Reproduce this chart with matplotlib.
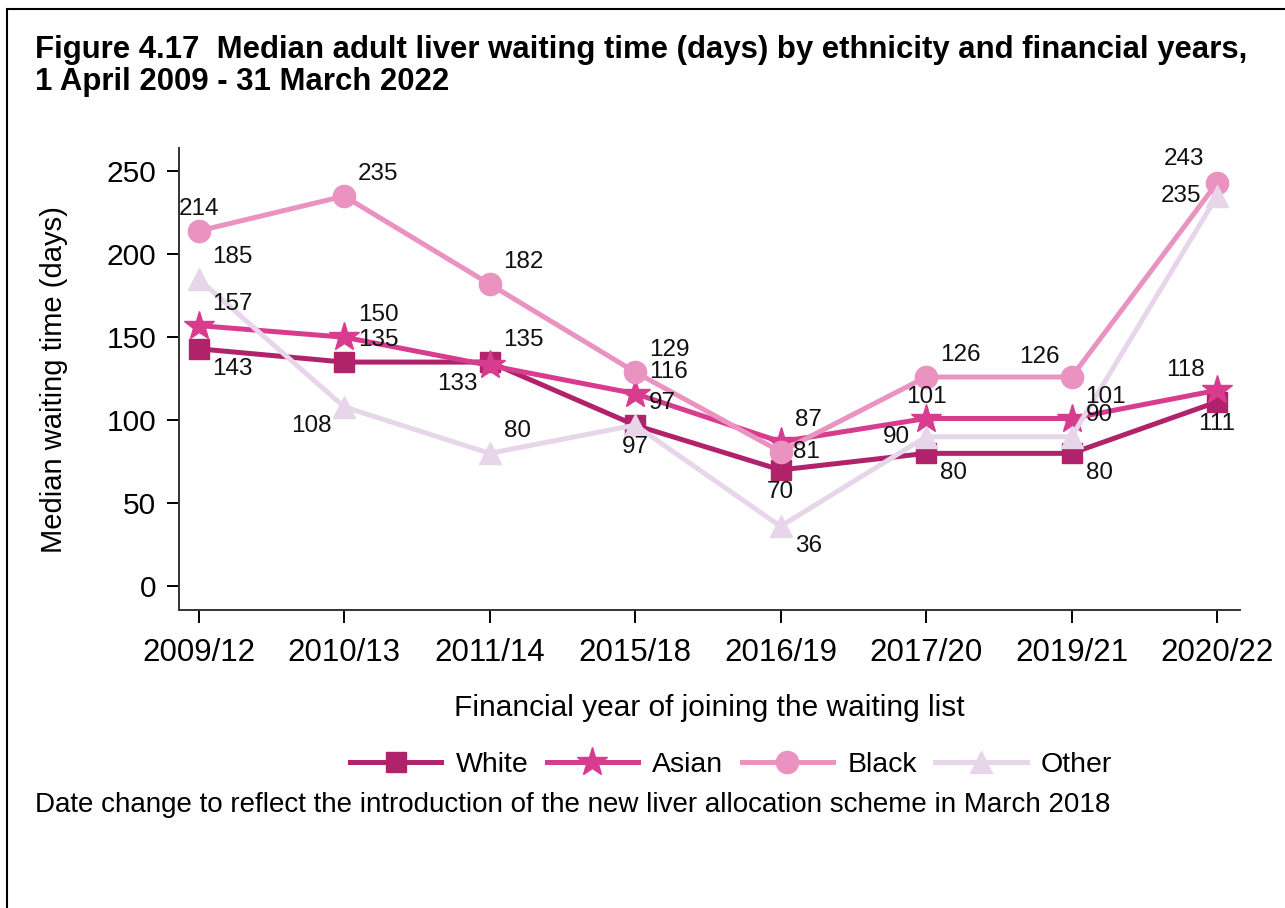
import matplotlib
matplotlib.use('Agg')
import matplotlib.pyplot as plt
from matplotlib.patches import Rectangle

plt.rcParams['font.family'] = ['Liberation Sans', 'DejaVu Sans']

years = ['2009/12', '2010/13', '2011/14', '2015/18', '2016/19', '2017/20', '2019/21', '2020/22']
white = [143, 135, 135, 97, 70, 80, 80, 111]
asian = [157, 150, 133, 116, 87, 101, 101, 118]
black = [214, 235, 182, 129, 81, 126, 126, 243]
other = [185, 108, 80, 97, 36, 90, 90, 235]

# label positions as clock positions (like stata mlabpos)
pos_white = [4, 2, 2, 6, 6, 4, 4, 6]
pos_asian = [2, 2, 8, 2, 2, 12, 2, 10]
pos_black = [12, 2, 2, 2, 3, 2, 10, 11]
pos_other = [2, 8, 2, 2, 4, 9, 2, 9]

clock = {
    2: (14, 22, 'left', 'center'),
    3: (12, 0, 'left', 'center'),
    4: (14, -20, 'left', 'center'),
    6: (0, -22, 'center', 'center'),
    8: (-12, -19, 'right', 'center'),
    9: (-16, 0, 'right', 'center'),
    10: (-12, 20, 'right', 'center'),
    11: (-13, 24, 'right', 'center'),
    12: (0, 22, 'center', 'center'),
}

series = [
    ('White', white, pos_white, '#B0236B', 's', 15),
    ('Asian', asian, pos_asian, '#D83C8E', '*', 22),
    ('Black', black, pos_black, '#EA92C0', 'o', 16),
    ('Other', other, pos_other, '#E7D6EA', '^', 16),
]

fig = plt.figure(figsize=(12.85, 9.08), dpi=100)
ax = fig.add_axes([0.139, 0.328, 0.826, 0.509])

x = list(range(len(years)))
for name, vals, pos, col, mk, ms in series:
    ax.plot(x, vals, color=col, lw=3.6, marker=mk, markersize=ms, label=name)
    for i, v in enumerate(vals):
        dx, dy, ha, va = clock[pos[i]]
        ax.annotate(str(v), (i, v), xytext=(dx, dy), textcoords='offset pixels',
                    ha=ha, va=va, fontsize=17.5, color='#111111')

ax.set_xlim(-0.1375, 7.158)
ax.set_ylim(-14.5, 264)
ax.set_xticks(x)
ax.set_xticklabels(years, fontsize=22.5)
ax.set_yticks([0, 50, 100, 150, 200, 250])
ax.tick_params(axis='y', labelsize=21.5, length=9, width=1.4, pad=7)
ax.tick_params(axis='x', length=9, width=1.4, pad=11)
for s in ['top', 'right']:
    ax.spines[s].set_visible(False)
for s in ['left', 'bottom']:
    ax.spines[s].set_linewidth(1.4)
    ax.spines[s].set_color('#333333')

ax.set_xlabel('Financial year of joining the waiting list', fontsize=21.5, labelpad=19)
ax.set_ylabel('Median waiting time (days)', fontsize=21, labelpad=28)

fig.legend(loc='center', bbox_to_anchor=(0.569, 0.157), ncol=4, frameon=False,
           fontsize=20.5, handlelength=3.2, columnspacing=0.65, handletextpad=0.5)

fig.text(0.027, 0.962, 'Figure 4.17  Median adult liver waiting time (days) by ethnicity and financial years,\n1 April 2009 - 31 March 2022',
         fontsize=22.4, fontweight='bold', va='top', linespacing=1.1)
fig.text(0.027, 0.113, 'Date change to reflect the introduction of the new liver allocation scheme in March 2018',
         fontsize=20, va='center')

fig.patches.append(Rectangle((0.0055, -0.1), 1.2, 1.09, transform=fig.transFigure,
                             fill=False, edgecolor='black', lw=1.5))

fig.savefig('out.png', dpi=100)
